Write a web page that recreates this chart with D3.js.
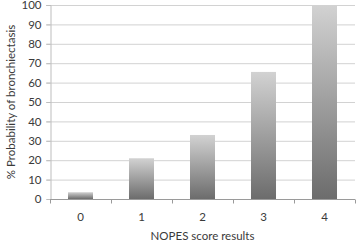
<!DOCTYPE html>
<html>
<head>
<meta charset="utf-8">
<script src="https://cdn.jsdelivr.net/npm/d3@7"></script>
<style>
  body { margin: 0; background: #fff; }
  text { font-family: Lato, "Open Sans", sans-serif; fill: #3a3a3a; }
</style>
</head>
<body>
<svg width="358" height="243"></svg>
<script>
// chart data
let scores = ["0", "1", "2", "3", "4"];
let probability = [3.5, 21, 33, 65.5, 100];
let yTicks = [0, 10, 20, 30, 40, 50, 60, 70, 80, 90, 100];

const w = 358, h = 243;
const margin = { top : 5, bottom : 44, left : 50, right : 3 };
const innerWidth = w - margin.left - margin.right;
const innerHeight = h - margin.top - margin.bottom;

let svg = d3.select("svg");

let defs = svg.append("defs");
let grad = defs.append("linearGradient")
  .attr("id", "barGrad")
  .attr("x1", 0).attr("y1", 0).attr("x2", 0).attr("y2", 1);
grad.append("stop").attr("offset", "0%").attr("stop-color", "#d2d2d2");
grad.append("stop").attr("offset", "100%").attr("stop-color", "#6c6c6c");

const g = svg.append("g")
  .attr("transform", `translate(${margin.left}, ${margin.top})`);

let xScale = d3.scaleBand()
  .domain(scores)
  .range([0, innerWidth])
  .paddingInner(0.59)
  .paddingOuter(0.295);

let yScale = d3.scaleLinear()
  .domain([0, 100])
  .range([innerHeight, 0]);

// gridlines
g.append("g")
  .selectAll("line")
  .data(yTicks.slice(1))
  .enter()
  .append("line")
  .attr("x1", -4)
  .attr("x2", innerWidth)
  .attr("y1", d => yScale(d) + 0.5)
  .attr("y2", d => yScale(d) + 0.5)
  .attr("stroke", "#d2d2d2");

// y axis
let yAxis = d3.axisLeft(yScale).tickValues(yTicks).tickSize(4).tickPadding(5);
let yG = g.append("g").attr("transform", "translate(0.5,0)").call(yAxis);
yG.select(".domain").attr("stroke", "#bdbdbd");
yG.selectAll(".tick line").attr("stroke", "#bdbdbd");
yG.selectAll(".tick text").style("font-size", "11.5px").attr("fill", "#3a3a3a");

// bars
g.selectAll("rect.bar")
  .data(probability)
  .enter()
  .append("rect")
  .attr("class", "bar")
  .attr("x", (d, i) => xScale(scores[i]))
  .attr("y", d => yScale(d))
  .attr("width", xScale.bandwidth())
  .attr("height", d => innerHeight - yScale(d))
  .attr("fill", "url(#barGrad)");

// x axis
let step = xScale.step();
let xAxisG = g.append("g").attr("transform", `translate(0,${innerHeight + 0.5})`);
xAxisG.append("line")
  .attr("x1", 0).attr("x2", innerWidth)
  .attr("stroke", "#9a9a9a");
xAxisG.selectAll("line.tick")
  .data(d3.range(scores.length + 1))
  .enter()
  .append("line")
  .attr("class", "tick")
  .attr("x1", i => Math.round(xScale(scores[0]) - xScale.paddingOuter() * step + i * step) + 0.5)
  .attr("x2", i => Math.round(xScale(scores[0]) - xScale.paddingOuter() * step + i * step) + 0.5)
  .attr("y1", 0).attr("y2", 4)
  .attr("stroke", "#9a9a9a");
xAxisG.selectAll("text")
  .data(scores)
  .enter()
  .append("text")
  .attr("x", d => xScale(d) + xScale.bandwidth() / 2)
  .attr("y", 21)
  .attr("text-anchor", "middle")
  .style("font-size", "11.5px")
  .text(d => d);

// axis titles
svg.append("text")
  .attr("x", margin.left + innerWidth / 2)
  .attr("y", 240)
  .attr("text-anchor", "middle")
  .style("font-size", "11.5px")
  .text("NOPES score results");

svg.append("text")
  .attr("transform", `translate(15, ${margin.top + innerHeight / 2}) rotate(-90)`)
  .attr("text-anchor", "middle")
  .style("font-size", "11.5px")
  .text("% Probability of bronchiectasis");
</script>
</body>
</html>
